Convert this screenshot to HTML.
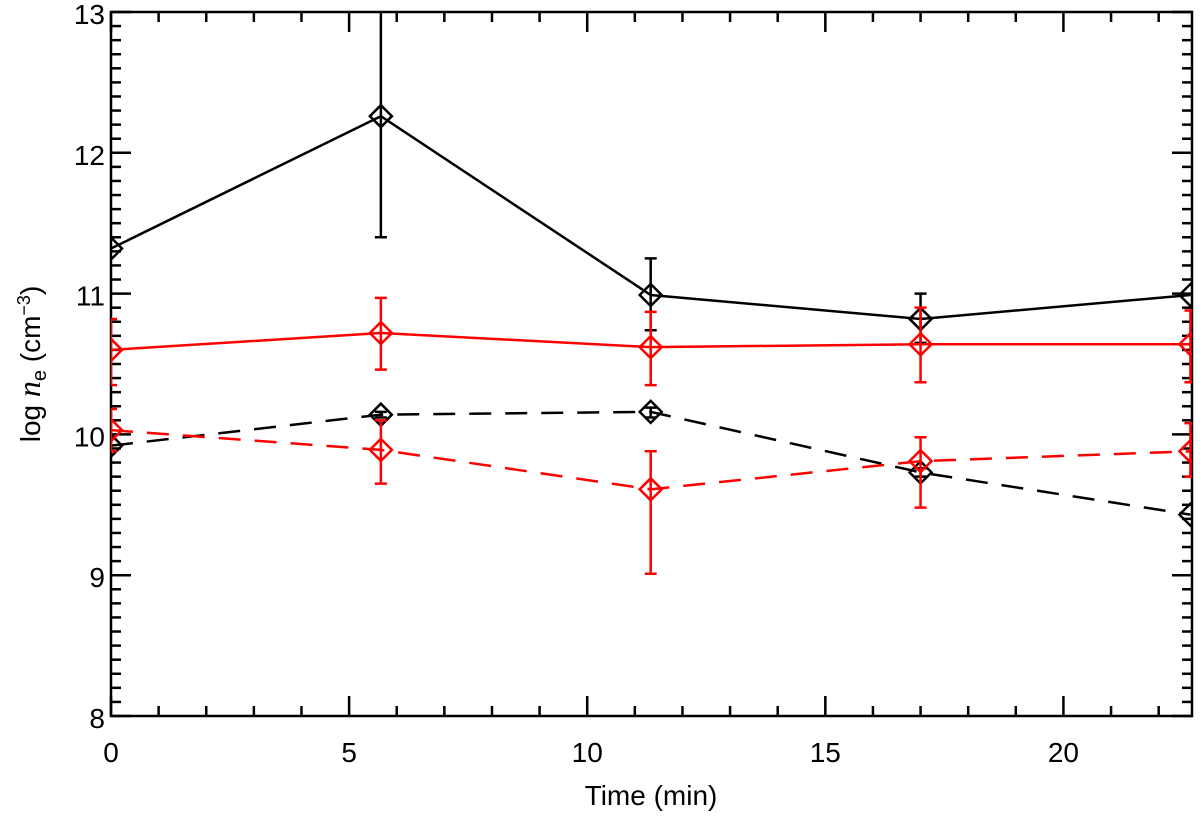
<!DOCTYPE html>
<html><head><meta charset="utf-8"><style>
html,body{margin:0;padding:0;background:#fff;}
svg text{font-family:"Liberation Sans",sans-serif;}
</style></head><body>
<svg id="chart" width="1200" height="815" viewBox="0 0 1200 815" xmlns="http://www.w3.org/2000/svg">
<defs><clipPath id="plotclip"><rect x="111" y="12" width="1081" height="704"/></clipPath></defs>
<g id="axes"></g>
<g id="series" clip-path="url(#plotclip)"></g>
<text x="651" y="805" font-size="28" text-anchor="middle">Time (min)</text>
<text transform="translate(40,364) rotate(-90)" font-size="28" text-anchor="middle">log <tspan font-style="italic" font-family="Liberation Serif" font-size="32">n</tspan><tspan font-size="20" dy="6">e</tspan><tspan dy="-6"> (cm</tspan><tspan font-size="18" dy="-10">−3</tspan><tspan dy="10">)</tspan></text>
</svg>
<script>
const times = [0, 5.667, 11.333, 17.0, 22.667];
const blackSolid = [11.32, 12.26, 10.99, 10.82, 10.99];
const blackSolidLo = [11.32, 11.40, 10.74, 10.65, 10.99];
const blackSolidHi = [11.32, 13.15, 11.25, 11.00, 10.99];
const redSolid = [10.60, 10.72, 10.62, 10.64, 10.64];
const redSolidLo = [10.35, 10.46, 10.35, 10.37, 10.37];
const redSolidHi = [10.82, 10.97, 10.87, 10.90, 10.88];
const blackDashed = [9.92, 10.14, 10.16, 9.73, 9.43];
const blackDashedLo = [9.92, 10.12, 10.12, 9.70, 9.43];
const blackDashedHi = [9.92, 10.16, 10.19, 9.76, 9.43];
const redDashed = [10.03, 9.89, 9.61, 9.81, 9.88];
const redDashedLo = [9.88, 9.65, 9.01, 9.48, 9.70];
const redDashedHi = [10.18, 10.10, 9.88, 9.98, 10.08];
const xTicks = [0, 5, 10, 15, 20];
const yTicks = [8, 9, 10, 11, 12, 13];

const NS = "http://www.w3.org/2000/svg";
const X0 = 111, X1 = 1192, Y0 = 716, Y1 = 12;
const xMin = 0, xMax = 22.7, yMin = 8, yMax = 13;
function sx(v){ return X0 + (v - xMin) / (xMax - xMin) * (X1 - X0); }
function sy(v){ return Y0 - (v - yMin) / (yMax - yMin) * (Y0 - Y1); }
function mk(tag, attrs, parent){ const e = document.createElementNS(NS, tag); for (const k in attrs) e.setAttribute(k, attrs[k]); parent.appendChild(e); return e; }

const axes = document.getElementById('axes');
const frame = mk('rect', {x:X0, y:Y1, width:X1-X0, height:Y0-Y1, fill:'none', stroke:'#000', 'stroke-width':2.5}, axes);


for (let m = 0; m <= 22; m++) {
  const x = sx(m), L = (m % 5 === 0) ? 20 : 10;
  const t1 = mk('line', {x1:x, x2:x, y1:Y0, y2:Y0-L, stroke:'#000', 'stroke-width':2.5}, axes);
  
  
  const t2 = mk('line', {x1:x, x2:x, y1:Y1, y2:Y1+L, stroke:'#000', 'stroke-width':2.5}, axes);
  
  
}
for (let i = 0; i <= 50; i++) {
  const v = 8 + i * 0.1, y = sy(v), L = (i % 10 === 0) ? 20 : 10;
  const t1 = mk('line', {x1:X0, x2:X0+L, y1:y, y2:y, stroke:'#000', 'stroke-width':2.5}, axes);
  
  
  const t2 = mk('line', {x1:X1, x2:X1-L, y1:y, y2:y, stroke:'#000', 'stroke-width':2.5}, axes);
  
  
}
xTicks.forEach(v => {
  const t = mk('text', {x:sx(v), y:Y0+46, 'font-size':28, 'text-anchor':'middle'}, axes);
  t.textContent = v;
  
  
});
yTicks.forEach(v => {
  const t = mk('text', {x:X0-6, y:sy(v)+12, 'font-size':28, 'text-anchor':'end'}, axes);
  t.textContent = v;
  
  
});

const sg = document.getElementById('series');
function drawSeries(name, vals, lo, hi, color, dash){
  const g = mk('g', {}, sg);
  
  
  const pts = times.map((t, i) => sx(t) + ',' + sy(vals[i])).join(' ');
  const pl = mk('polyline', {points:pts, fill:'none', stroke:color, 'stroke-width':2.5, 'stroke-dasharray':dash}, g);
  
  
  times.forEach((t, i) => {
    const x = sx(t), y = sy(vals[i]), ylo = sy(lo[i]), yhi = sy(hi[i]);
    if (hi[i] - lo[i] > 0.001) {
      const eb = mk('path', {d:`M${x},${ylo}V${yhi}M${x-6},${ylo}H${x+6}M${x-6},${yhi}H${x+6}`, stroke:color, 'stroke-width':2.5, fill:'none'}, g);
      
      
    }
    const d = mk('path', {d:`M${x-11},${y}L${x},${y-11}L${x+11},${y}L${x},${y+11}Z`, stroke:color, 'stroke-width':2.5, fill:'none'}, g);
    
    
  });
}
drawSeries('black-solid-series', blackSolid, blackSolidLo, blackSolidHi, '#000', 'none');
drawSeries('red-solid-series', redSolid, redSolidLo, redSolidHi, '#f00', 'none');
drawSeries('black-dashed-series', blackDashed, blackDashedLo, blackDashedHi, '#000', '22,14');
drawSeries('red-dashed-series', redDashed, redDashedLo, redDashedHi, '#f00', '22,14');
</script>
</body></html>
